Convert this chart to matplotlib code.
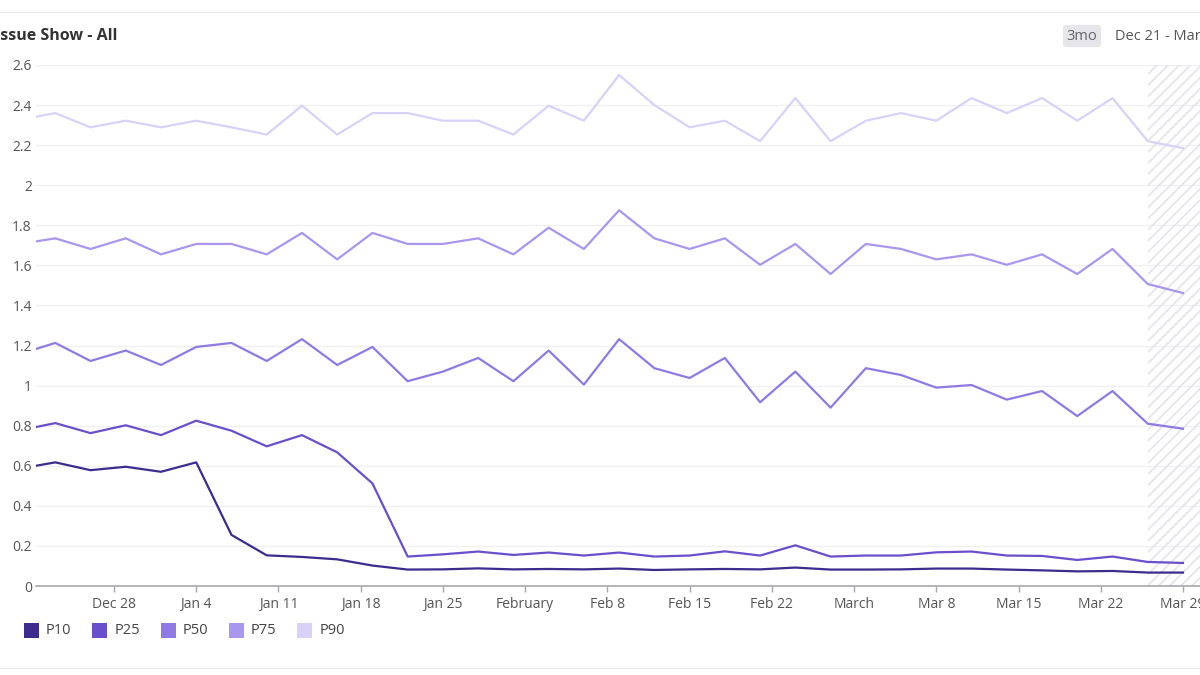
import matplotlib
matplotlib.use('Agg')
import matplotlib.pyplot as plt
import matplotlib.dates as mdates
from matplotlib.patches import Rectangle
from matplotlib.lines import Line2D
from matplotlib.ticker import FuncFormatter
import pandas as pd

plt.rcParams['font.family'] = ['Open Sans', 'DejaVu Sans']
plt.rcParams['hatch.linewidth'] = 1.3

# --- Datos (cada 3 dias, el primero queda recortado por el borde) ----------
fechas = pd.date_range('2020-12-20', '2021-03-29', freq='3D')

p10 = [0.586, 0.617, 0.578, 0.595, 0.570, 0.617, 0.255, 0.153, 0.145, 0.133, 0.102, 0.082,
       0.083, 0.088, 0.083, 0.085, 0.083, 0.087, 0.080, 0.083, 0.085, 0.083, 0.092, 0.082,
       0.082, 0.083, 0.087, 0.087, 0.082, 0.078, 0.073, 0.075, 0.067, 0.067]
p25 = [0.777, 0.813, 0.763, 0.802, 0.753, 0.825, 0.775, 0.697, 0.753, 0.667, 0.512, 0.147,
       0.158, 0.172, 0.155, 0.167, 0.152, 0.167, 0.147, 0.152, 0.173, 0.152, 0.203, 0.147,
       0.152, 0.152, 0.168, 0.172, 0.152, 0.150, 0.130, 0.147, 0.120, 0.115]
p50 = [1.158, 1.213, 1.123, 1.175, 1.103, 1.193, 1.213, 1.123, 1.232, 1.103, 1.193, 1.022,
       1.070, 1.138, 1.022, 1.175, 1.005, 1.232, 1.087, 1.038, 1.138, 0.917, 1.070, 0.890,
       1.087, 1.053, 0.990, 1.003, 0.930, 0.973, 0.848, 0.973, 0.810, 0.785]
p75 = [1.707, 1.735, 1.682, 1.735, 1.655, 1.707, 1.707, 1.655, 1.762, 1.630, 1.762, 1.707,
       1.707, 1.735, 1.655, 1.788, 1.682, 1.875, 1.735, 1.682, 1.735, 1.603, 1.707, 1.557,
       1.707, 1.682, 1.630, 1.655, 1.603, 1.655, 1.557, 1.682, 1.507, 1.462]
p90 = [2.327, 2.360, 2.289, 2.322, 2.289, 2.322, 2.289, 2.253, 2.397, 2.253, 2.360, 2.360,
       2.322, 2.322, 2.253, 2.397, 2.322, 2.550, 2.400, 2.289, 2.322, 2.220, 2.435, 2.220,
       2.322, 2.360, 2.322, 2.435, 2.360, 2.435, 2.322, 2.435, 2.220, 2.185]

series = ['P10', 'P25', 'P50', 'P75', 'P90']
valores = [p10, p25, p50, p75, p90]
colores = ['#3d2b8e', '#6a4fcc', '#8f7ae4', '#a996ee', '#d9d1f8']

tick_fechas = pd.to_datetime(['2020-12-28', '2021-01-04', '2021-01-11', '2021-01-18', '2021-01-25',
                              '2021-02-01', '2021-02-08', '2021-02-15', '2021-02-22', '2021-03-01',
                              '2021-03-08', '2021-03-15', '2021-03-22', '2021-03-29'])
tick_labels = ['Dec 28', 'Jan 4', 'Jan 11', 'Jan 18', 'Jan 25', 'February', 'Feb 8',
               'Feb 15', 'Feb 22', 'March', 'Mar 8', 'Mar 15', 'Mar 22', 'Mar 29']
inicio_parcial = pd.Timestamp('2021-03-26')

# --- Figura -------------------------------------------------------------------
W, H = 1200, 675
fig = plt.figure(figsize=(12, 6.75), dpi=100)
px_dia = 11.747
ax_izq, ax_der = 36, 1207
ax = fig.add_axes([ax_izq / W, (H - 586) / H, (ax_der - ax_izq) / W, (586 - 65) / H])

x_min = mdates.date2num(pd.Timestamp('2020-12-28')) - (114 - ax_izq) / px_dia
x_max = x_min + (ax_der - ax_izq) / px_dia

# zona del periodo incompleto
ax.axvspan(mdates.date2num(inicio_parcial), x_max, facecolor='none', edgecolor='#e6e6ea',
           hatch='///', linewidth=0, zorder=1)

for nombre, vals, col in zip(series, valores, colores):
    ax.plot(mdates.date2num(fechas), vals, color=col, lw=1.6, zorder=3, label=nombre)

ax.set_xlim(x_min, x_max)
ax.set_ylim(0, 2.6)
ax.set_yticks([i * 0.2 for i in range(14)])
ax.yaxis.set_major_formatter(FuncFormatter(lambda v, p: f'{round(v, 1):g}'))
ax.grid(axis='y', color='#f0f0f2', lw=1, zorder=0)
ax.set_axisbelow(True)
ax.set_xticks(mdates.date2num(tick_fechas))
ax.set_xticklabels(tick_labels)

for s in ['top', 'right', 'left']:
    ax.spines[s].set_visible(False)
ax.spines['bottom'].set_color('#a8a8ac')
ax.spines['bottom'].set_linewidth(1.2)
ax.tick_params(axis='y', length=0, pad=3, labelsize=10, labelcolor='#555555')
ax.tick_params(axis='x', length=4, width=1, color='#a8a8ac', pad=4, labelsize=10,
               labelcolor='#555555')

# --- Textos de cabecera ----------------------------------------------------------
fig.text(-5 / W, 1 - 36 / H, 'Issue Show - All', fontsize=11.5, fontweight='bold',
         color='#333333', va='center', ha='left')
fig.text(1082 / W, 1 - 36 / H, '3mo', fontsize=10.5, color='#666666', va='center', ha='center',
         bbox=dict(boxstyle='round,pad=0.25', fc='#e6e6ea', ec='none'))
fig.text(1115 / W, 1 - 36 / H, 'Dec 21 - Mar 29', fontsize=10.5, color='#555555',
         va='center', ha='left')

# bordes de la tarjeta
fig.add_artist(Line2D([0, 1], [1 - 12 / H, 1 - 12 / H], color='#ececee', lw=1,
                      transform=fig.transFigure))
fig.add_artist(Line2D([0, 1], [1 - 668 / H, 1 - 668 / H], color='#ececee', lw=1,
                      transform=fig.transFigure))

# --- Leyenda manual -----------------------------------------------------------------
for i, (nombre, col) in enumerate(zip(series, colores)):
    x = 24 + i * 68.3
    fig.add_artist(Rectangle((x / W, (H - 638) / H), 15 / W, 15 / H, facecolor=col,
                             edgecolor='none', transform=fig.transFigure))
    fig.text((x + 22) / W, 1 - 631 / H, nombre, fontsize=10.5, color='#444444',
             va='center', ha='left')

fig.savefig('out.png', dpi=100)
